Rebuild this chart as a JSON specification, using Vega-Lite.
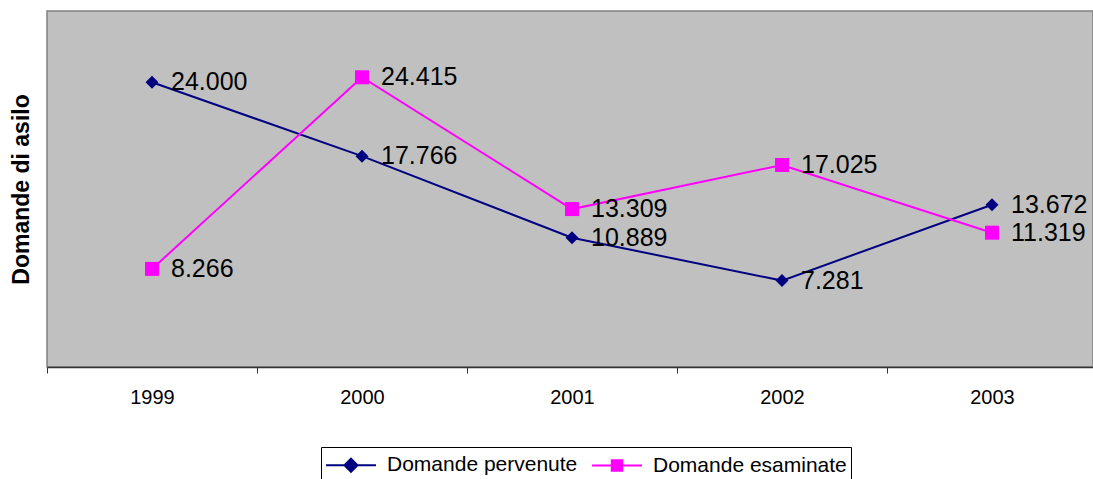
{
  "$schema": "https://vega.github.io/schema/vega-lite/v6.json",
  "autosize": {"type": "none"},
  "padding": {"left": 47, "top": 11, "right": 0, "bottom": 112},
  "width": 1046,
  "height": 356,
  "background": "white",
  "config": {
    "font": "Liberation Sans",
    "view": {"fill": "#C0C0C0", "stroke": "#808080", "strokeWidth": 1.5},
    "locale": {"number": {"decimal": ",", "thousands": ".", "grouping": [3], "currency": ["€", ""]}}
  },
  "data": {
    "values": [
      {"anno": "1999", "serie": "Domande pervenute", "valore": 24000},
      {"anno": "2000", "serie": "Domande pervenute", "valore": 17766},
      {"anno": "2001", "serie": "Domande pervenute", "valore": 10889},
      {"anno": "2002", "serie": "Domande pervenute", "valore": 7281},
      {"anno": "2003", "serie": "Domande pervenute", "valore": 13672},
      {"anno": "1999", "serie": "Domande esaminate", "valore": 8266},
      {"anno": "2000", "serie": "Domande esaminate", "valore": 24415},
      {"anno": "2001", "serie": "Domande esaminate", "valore": 13309},
      {"anno": "2002", "serie": "Domande esaminate", "valore": 17025},
      {"anno": "2003", "serie": "Domande esaminate", "valore": 11319}
    ]
  },
  "encoding": {
    "x": {
      "field": "anno", "type": "nominal", "sort": null,
      "scale": {"type": "band", "range": [0, 1050], "paddingInner": 0, "paddingOuter": 0},
      "axis": {
        "title": null, "labelAngle": 0, "labelFont": "Liberation Sans", "labelFontSize": 20,
        "labelColor": "black", "labelPadding": 14, "tickBand": "extent", "tickSize": 6,
        "tickColor": "#333", "domainColor": "#333", "domainWidth": 1.5, "grid": false
      }
    },
    "y": {
      "field": "valore", "type": "quantitative",
      "scale": {"domain": [0, 30000], "nice": false, "zero": true},
      "axis": {
        "title": "Domande di asilo", "labels": false, "ticks": false, "domain": false, "grid": false,
        "titleFont": "Liberation Sans", "titleFontSize": 23, "titleFontWeight": "bold",
        "titleColor": "black", "titlePadding": 14
      }
    }
  },
  "layer": [
    {
      "mark": {"type": "line", "strokeWidth": 2},
      "encoding": {
        "color": {
          "field": "serie", "type": "nominal",
          "scale": {"domain": ["Domande pervenute", "Domande esaminate"], "range": ["#000080", "#FF00FF"]},
          "legend": {
            "title": null, "orient": "none", "legendX": 274, "legendY": 436, "direction": "horizontal",
            "strokeColor": "black", "fillColor": "white", "padding": 4,
            "labelFont": "Liberation Sans", "labelFontSize": 21, "labelColor": "black",
            "labelOffset": 22, "columnPadding": 10, "symbolSize": 676, "symbolOffset": 12,
            "symbolStrokeWidth": 2, "labelLimit": 400,
            "encode": {
              "symbols": {
                "update": {
                  "shape": {"signal": "datum.value === 'Domande pervenute' ? 'M-1.92,0H1.92M0,-0.5L0.5,0L0,0.5L-0.5,0Z' : 'M-1.92,0H1.92M-0.4,-0.4H0.4V0.4H-0.4Z'"},
                  "fill": {"signal": "datum.value === 'Domande pervenute' ? '#000080' : '#FF00FF'"},
                  "stroke": {"signal": "datum.value === 'Domande pervenute' ? '#000080' : '#FF00FF'"},
                  "strokeWidth": {"value": 2},
                  "opacity": {"value": 1}
                }
              }
            }
          }
        }
      }
    },
    {
      "transform": [{"filter": "datum.serie === 'Domande pervenute'"}],
      "mark": {"type": "point", "shape": "diamond", "filled": true, "opacity": 1, "size": 169, "color": "#000080"}
    },
    {
      "transform": [{"filter": "datum.serie === 'Domande esaminate'"}],
      "mark": {"type": "point", "shape": "square", "filled": true, "opacity": 1, "size": 196, "color": "#FF00FF"}
    },
    {
      "mark": {"type": "text", "align": "left", "baseline": "middle", "dx": 19, "fontSize": 25, "font": "Liberation Sans", "color": "black"},
      "encoding": {
        "text": {"field": "valore", "type": "quantitative", "format": ",.0f"}
      }
    }
  ]
}
